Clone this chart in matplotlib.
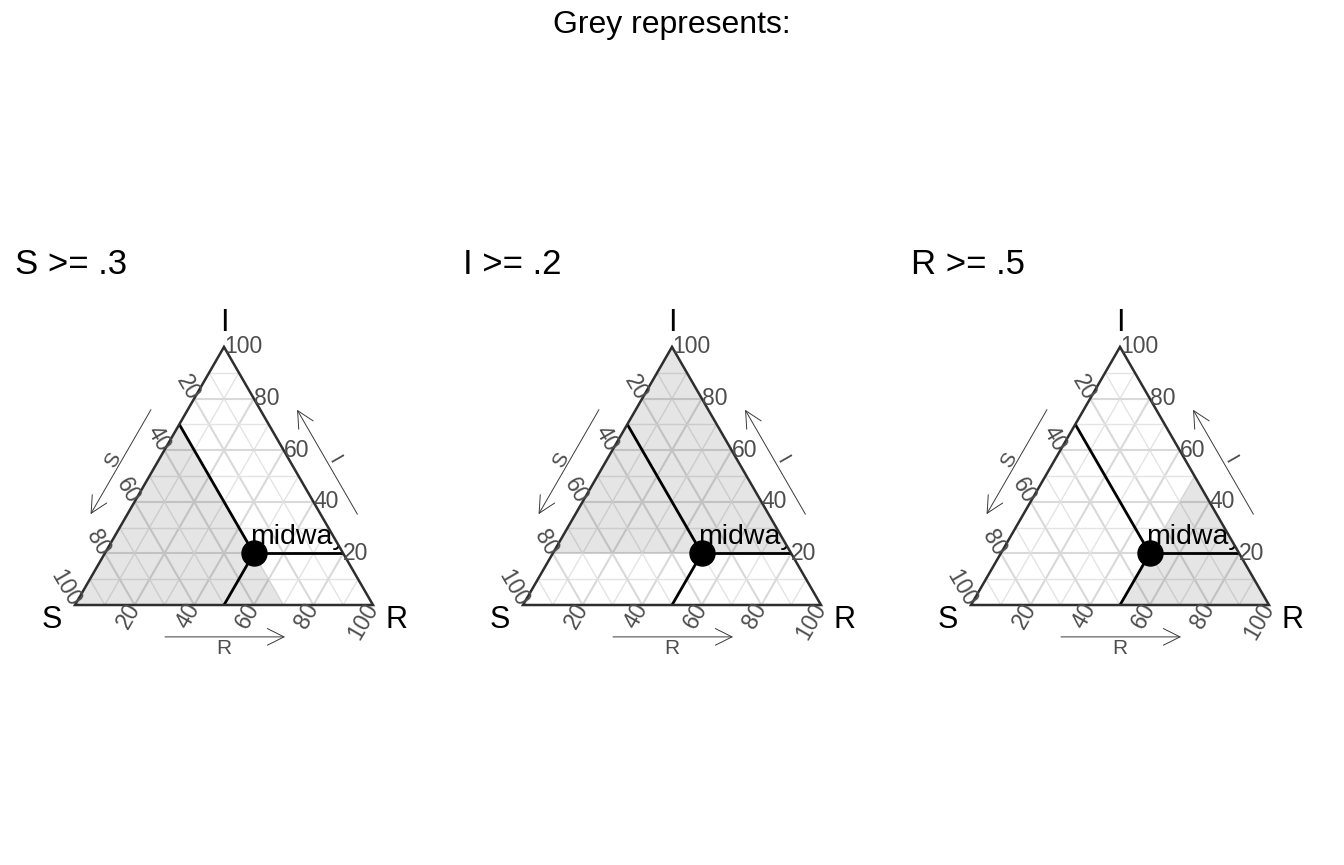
import numpy as np
import matplotlib
matplotlib.use("Agg")
import matplotlib.pyplot as plt
from matplotlib.patches import Polygon

plt.rcParams["font.family"] = ["Liberation Sans", "DejaVu Sans"]

# chart data
main_title = "Grey represents:"
panel_titles = ["S >= .3", "I >= .2", "R >= .5"]
axis_names = ["S", "I", "R"]
point_label = "midway"
point_sir = (0.3, 0.2, 0.5)
tick_values = [20, 40, 60, 80, 100]
grid_values = [0.1, 0.2, 0.3, 0.4, 0.5, 0.6, 0.7, 0.8, 0.9]
# shaded region of each panel, vertices as (S, I, R)
shade_regions = [
    [(1.0, 0.0, 0.0), (0.3, 0.7, 0.0), (0.3, 0.0, 0.7)],
    [(0.8, 0.2, 0.0), (0.0, 1.0, 0.0), (0.0, 0.2, 0.8)],
    [(0.5, 0.0, 0.5), (0.0, 0.0, 1.0), (0.0, 0.5, 0.5)],
]

SQ3 = np.sqrt(3) / 2
W, H = 1344, 865
TICK_COL = "#4d4d4d"
TICK_FS = 16.5


def tern(s, i, r):
    tot = s + i + r
    s, i, r = s / tot, i / tot, r / tot
    return r + i / 2, i * SQ3


def tline(ax, a, b, **kw):
    xa, ya = tern(*a)
    xb, yb = tern(*b)
    ax.plot([xa, xb], [ya, yb], solid_capstyle="butt", **kw)


fig = plt.figure(figsize=(W / 100, H / 100), dpi=100)
fig.text(672 / W, 1 - 33 / H, main_title, ha="center", va="baseline", fontsize=23)

nr = np.array([SQ3, 0.5])   # outward normal of the right edge
dr = np.array([-0.5, SQ3])  # right edge direction, R -> I

for k in range(3):
    left = 0.5 + 448 * k
    ax = fig.add_axes([left / W, 170.6 / H, 447 / W, 417.2 / H])
    ax.set_xlim(-0.25, 1.25)
    ax.set_ylim(-0.3, 1.1)
    ax.axis("off")
    fig.text((15 + 448 * k) / W, 1 - 274 / H, panel_titles[k], ha="left",
             va="baseline", fontsize=25)

    # grid
    for v in grid_values:
        major = round(v * 10) % 2 == 0
        kw = dict(color="#d9d9d9" if major else "#e4e4e4", lw=1.5 if major else 1.0, zorder=1)
        tline(ax, (1 - v, v, 0), (0, v, 1 - v), **kw)
        tline(ax, (v, 1 - v, 0), (v, 0, 1 - v), **kw)
        tline(ax, (1 - v, 0, v), (0, 1 - v, v), **kw)

    # shaded region
    verts = [tern(*p) for p in shade_regions[k]]
    ax.add_patch(Polygon(verts, closed=True, facecolor="black", alpha=0.1,
                         edgecolor="none", zorder=2))

    # reference lines through the point
    s0, i0, r0 = point_sir
    tline(ax, point_sir, (s0, 1 - s0, 0), color="black", lw=2, zorder=4)
    tline(ax, point_sir, (0, i0, 1 - i0), color="black", lw=2, zorder=4)
    tline(ax, point_sir, (1 - r0, 0, r0), color="black", lw=2, zorder=4)
    px, py = tern(*point_sir)
    ax.plot(px, py, "o", color="black", markersize=18, zorder=5)
    ax.annotate(point_label, (px, py), xytext=(-2.5, 7), textcoords="offset points",
                ha="left", va="baseline", fontsize=20.5, zorder=6)
    # the label is cut off at the triangle edge (Agg cannot clip text to a path)
    e0 = np.array(tern(0, 0.19, 0.81))
    e1 = np.array(tern(0, 0.42, 0.58))
    ax.add_patch(Polygon([e0, e1, e1 + nr * 0.09, e0 + nr * 0.09], closed=True,
                         facecolor="white", edgecolor="none", zorder=6.5))

    # triangle border
    corners = [tern(1, 0, 0), tern(0, 0, 1), tern(0, 1, 0)]
    ax.add_patch(Polygon(corners, closed=True, facecolor="none", edgecolor="#2e2e2e",
                         lw=1.8, zorder=7, joinstyle="miter"))

    # tick labels
    for t in tick_values:
        v = t / 100
        ax.text(*tern(v, 1 - v, 0), str(t), rotation=-60, rotation_mode="anchor",
                ha="right", va="center", fontsize=TICK_FS, color=TICK_COL, zorder=8)
        ax.text(*tern(1 - v, 0, v), str(t), rotation=60, rotation_mode="anchor",
                ha="right", va="center", fontsize=TICK_FS, color=TICK_COL, zorder=8)
        ax.text(*tern(0, v, 1 - v), str(t), ha="left", va="center",
                fontsize=TICK_FS, color=TICK_COL, zorder=8)

    # corner labels
    ax.annotate(axis_names[0], tern(1, 0, 0), xytext=(-17, -11), textcoords="offset points",
                ha="center", va="center", fontsize=22)
    ax.annotate(axis_names[2], tern(0, 0, 1), xytext=(17, -11), textcoords="offset points",
                ha="center", va="center", fontsize=22)
    ax.annotate(axis_names[1], tern(0, 1, 0), xytext=(0, 17), textcoords="offset points",
                ha="center", va="center", fontsize=22)

    # axis arrows
    off, lab_off = 0.107, 0.132
    a0, a1 = 0.29, 0.695
    arrow_kw = dict(arrowstyle="->,head_length=1.2,head_width=0.6", lw=0.7,
                    color="#3a3a3a", shrinkA=0, shrinkB=0, mutation_scale=10)
    # left edge (S), pointing toward S corner
    nl = np.array([-SQ3, 0.5])
    dl = np.array([0.5, SQ3])
    st, en = dl * a1 + nl * off, dl * a0 + nl * off
    ax.annotate("", xy=en, xytext=st, arrowprops=arrow_kw)
    ax.text(*(dl * 0.485 + nl * lab_off), axis_names[0], rotation=60, ha="center",
            va="center", fontsize=15, color=TICK_COL)
    # right edge (I), pointing toward I corner
    base = np.array([1.0, 0.0])
    st, en = base + dr * a0 + nr * off, base + dr * a1 + nr * off
    ax.annotate("", xy=en, xytext=st, arrowprops=arrow_kw)
    ax.text(*(base + dr * 0.485 + nr * lab_off), axis_names[1], rotation=-60,
            ha="center", va="center", fontsize=15, color=TICK_COL)
    # bottom edge (R)
    ax.annotate("", xy=(0.705, -off), xytext=(0.302, -off), arrowprops=arrow_kw)
    ax.text(0.5, -0.145, axis_names[2], ha="center", va="center", fontsize=15,
            color=TICK_COL)

fig.savefig("out.png", dpi=100)
